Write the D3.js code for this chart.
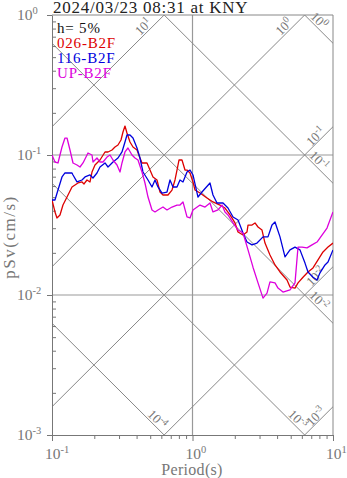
<!DOCTYPE html>
<html><head><meta charset="utf-8">
<script src="https://cdn.jsdelivr.net/npm/d3@7"></script>
<style>
html,body{margin:0;padding:0;background:#fff;}
svg{display:block;font-family:"Liberation Serif","Times New Roman",serif;}
</style></head><body>
<svg id="chart" width="347" height="478"></svg>
<script>
// Tripartite pseudo-velocity response spectra
const titleText = "2024/03/23 08:31 at KNY";
const dampingText = "h= 5%";
const seriesNames = ["026-B2F", "116-B2F", "UP-B2F"];
const seriesColors = ["#dd0000", "#0000dd", "#dd00dd"];

const periods026 = [0.100,0.105,0.1085,0.114,0.1197,0.1279,0.1388,0.1458,0.1531,0.1635,0.169,0.1774,0.1864,0.1926,0.2023,0.2196,0.2384,0.2504,0.2673,0.2807,0.2949,0.3098,0.3201,0.3307,0.3417,0.359,0.3771,0.4027,0.4229,0.437,0.4744,0.4983,0.5234,0.5588,0.587,0.6166,0.6692,0.7146,0.7506,0.7756,0.8014,0.8419,0.8843,0.9138,0.9598,1.008,1.042,1.131,1.268,1.399,1.569,1.703,1.849,2.007,2.109,2.288,2.443,2.484,2.652,2.785,2.926,3.124,3.281,3.56,3.866,4.195,4.706,4.943,5.364,5.637,6.117,6.639,7.206,7.822,8.49,9.215,10];
const psv026 = [0.0477,0.0392,0.0355,0.0373,0.0439,0.0501,0.0591,0.0611,0.0631,0.0642,0.0621,0.0663,0.0642,0.0756,0.0848,0.0921,0.1051,0.1051,0.1086,0.114,0.1179,0.128,0.146,0.161,0.1436,0.1239,0.114,0.1086,0.0952,0.0877,0.0877,0.0781,0.0697,0.0663,0.0544,0.0518,0.0518,0.0562,0.0663,0.0781,0.0921,0.0921,0.0781,0.0781,0.0744,0.0642,0.0562,0.0535,0.0493,0.0462,0.0439,0.0418,0.0373,0.0327,0.0282,0.0268,0.0282,0.0316,0.0316,0.0327,0.0306,0.0291,0.0235,0.0193,0.0164,0.0146,0.0128,0.0114,0.0112,0.0122,0.0134,0.0146,0.0156,0.0178,0.0203,0.022,0.0235];

const periods116 = [0.100,0.105,0.1103,0.1178,0.1237,0.130,0.1388,0.1411,0.1506,0.1635,0.1718,0.1864,0.1958,0.209,0.2196,0.2384,0.2504,0.2717,0.2949,0.3149,0.3307,0.3417,0.359,0.3771,0.4027,0.4229,0.4442,0.4823,0.5149,0.5409,0.5681,0.6066,0.6584,0.6916,0.7264,0.7756,0.8146,0.8557,0.9138,0.9598,1.008,1.094,1.168,1.332,1.399,1.494,1.649,1.789,1.943,2.109,2.288,2.443,2.652,2.878,3.176,3.445,3.68,3.866,4.195,4.554,4.943,5.364,5.821,6.32,6.639,7.206,7.695,8.081,8.772,9.215,10];
const psv116 = [0.0477,0.0477,0.0562,0.0697,0.0744,0.0744,0.0744,0.072,0.0642,0.0663,0.0697,0.072,0.0685,0.0744,0.0821,0.0877,0.0821,0.0891,0.0952,0.1051,0.1239,0.1389,0.1389,0.1322,0.1122,0.0952,0.0756,0.0663,0.0591,0.0663,0.0591,0.0535,0.0544,0.0663,0.0591,0.0591,0.0663,0.0642,0.0756,0.0781,0.072,0.0501,0.0544,0.0631,0.0518,0.0454,0.0454,0.0418,0.0361,0.0343,0.0277,0.0239,0.0228,0.0235,0.026,0.026,0.0316,0.0332,0.026,0.0187,0.021,0.022,0.021,0.0169,0.0146,0.0134,0.0128,0.0144,0.0164,0.0172,0.021];

const periodsUP = [0.100,0.105,0.1103,0.1178,0.1237,0.1279,0.1343,0.1411,0.1506,0.1582,0.1662,0.1804,0.1926,0.1958,0.209,0.2196,0.2307,0.2463,0.2587,0.2717,0.2901,0.3048,0.3149,0.3307,0.3474,0.3709,0.3896,0.4093,0.437,0.459,0.4823,0.5149,0.5409,0.5681,0.6166,0.6584,0.7146,0.7756,0.8146,0.8557,0.9138,0.9598,1.008,1.131,1.228,1.332,1.399,1.519,1.622,1.703,1.789,1.943,2.109,2.288,2.484,2.695,2.926,3.176,3.391,3.56,3.866,4.06,4.406,4.943,5.364,5.637,6.018,6.531,7.089,7.695,8.352,9.065,10];
const psvUP = [0.100,0.0891,0.0877,0.114,0.1322,0.1322,0.1086,0.0877,0.0848,0.0821,0.0877,0.1033,0.100,0.0891,0.0952,0.0891,0.0891,0.0967,0.100,0.0921,0.0848,0.0756,0.0877,0.1051,0.1122,0.100,0.0952,0.0921,0.0756,0.0631,0.0501,0.0405,0.0392,0.0405,0.0425,0.0405,0.0425,0.0439,0.0439,0.0462,0.0361,0.0355,0.0405,0.0439,0.0425,0.0454,0.0392,0.0405,0.0439,0.0392,0.0373,0.0327,0.0291,0.0277,0.021,0.0158,0.0122,0.0095,0.0103,0.0124,0.0122,0.0112,0.0105,0.0109,0.0122,0.022,0.022,0.0217,0.0228,0.0239,0.0268,0.0301,0.0392];

const periodTicks = [0.1, 1, 10];
const psvTicks = [1, 0.1, 0.01, 0.001];
const dispLevels = [1, 0.1, 0.01, 0.001, 0.0001];   // displacement, cm
const accLevels = [10, 1, 0.1, 0.01, 0.001];        // acceleration, cm/s^2

const svg = d3.select("#chart");
const L = 52, R = 333, T = 15, B = 435;
const x = d3.scaleLog().domain([0.1, 10]).range([L, R]);
const y = d3.scaleLog().domain([0.001, 1]).range([B, T]);
const TWO_PI = 2 * Math.PI;
const axisGray = "#777";

svg.append("defs").append("clipPath").attr("id", "plotArea")
  .append("rect").attr("x", L).attr("y", T).attr("width", R - L).attr("height", B - T);

// decade grid lines
const grid = svg.append("g").attr("stroke", "#999").attr("stroke-width", 1.2);
grid.selectAll("line.h").data([0.1, 0.01]).join("line")
  .attr("x1", L).attr("x2", R).attr("y1", d => y(d)).attr("y2", d => y(d));
grid.selectAll("line.v").data([1]).join("line")
  .attr("x1", d => x(d)).attr("x2", d => x(d)).attr("y1", T).attr("y2", B);

// constant displacement / acceleration lines
const diag = svg.append("g").attr("clip-path", "url(#plotArea)")
  .attr("stroke", "#888").attr("stroke-width", 1);
const dispSv = (D, t) => TWO_PI * D / t;
const accSv = (A, t) => A * t / TWO_PI;
dispLevels.forEach(D => diag.append("line")
  .attr("x1", x(0.1)).attr("y1", y(dispSv(D, 0.1)))
  .attr("x2", x(10)).attr("y2", y(dispSv(D, 10))));
accLevels.forEach(A => diag.append("line")
  .attr("x1", x(0.1)).attr("y1", y(accSv(A, 0.1)))
  .attr("x2", x(10)).attr("y2", y(accSv(A, 10))));

function powerLabel(sel, exp, base, sup, raise) {
  sel.append("tspan").text("10").attr("font-size", base);
  sel.append("tspan").text(String(exp)).attr("font-size", sup).attr("dy", -raise);
}

// diagonal labels near the end of each line
const diagLabels = svg.append("g").attr("fill", "#777");
function placeLabel(E, u, along, off, exp) {
  const n = [u[1], -u[0]];
  const cx = E[0] - u[0] * along + n[0] * off;
  const cy = E[1] - u[1] * along + n[1] * off;
  const ang = Math.atan2(u[1], u[0]) * 180 / Math.PI;
  const t = diagLabels.append("text")
    .attr("transform", `translate(${cx},${cy}) rotate(${ang})`)
    .attr("text-anchor", "middle").attr("y", 4);
  powerLabel(t, exp, 13, 9.5, 5);
}
function unit(p0, p1) {
  const dx = p1[0] - p0[0], dy = p1[1] - p0[1], l = Math.hypot(dx, dy);
  return [dx / l, dy / l];
}
dispLevels.forEach(D => {
  const u = unit([x(1), y(dispSv(D, 1))], [x(10), y(dispSv(D, 10))]);
  const exp = Math.round(Math.log10(D));
  if (dispSv(D, 10) >= 0.001) placeLabel([x(10), y(dispSv(D, 10))], u, 26, 6, exp);
  else placeLabel([x(TWO_PI * D / 0.001), y(0.001)], u, 16, 6, exp);
});
accLevels.forEach(A => {
  const u = unit([x(1), y(accSv(A, 1))], [x(10), y(accSv(A, 10))]);
  const exp = Math.round(Math.log10(A));
  const tTop = TWO_PI / A;
  if (tTop <= 10) placeLabel([x(tTop), y(1)], u, 23, 6, exp);
  else placeLabel([x(10), y(accSv(A, 10))], u, 19, 5, exp);
});

// frame
svg.append("line").attr("x1", L).attr("x2", R).attr("y1", T).attr("y2", T).attr("stroke", "#888");
svg.append("line").attr("x1", R).attr("x2", R).attr("y1", T).attr("y2", B).attr("stroke", "#888");

// axes
const minorPeriods = [], minorPsv = [];
[-1, 0].forEach(k => d3.range(2, 10).forEach(m => minorPeriods.push(m * Math.pow(10, k))));
[-3, -2, -1].forEach(k => d3.range(2, 10).forEach(m => minorPsv.push(m * Math.pow(10, k))));

function styleAxis(g) {
  g.selectAll("path,line").attr("stroke", axisGray).attr("stroke-width", 1);
  g.selectAll("text").remove();
}
svg.append("g").attr("transform", `translate(0,${B})`)
  .call(d3.axisBottom(x).tickValues(periodTicks).tickSize(6).tickSizeOuter(0)).call(styleAxis);
svg.append("g").attr("transform", `translate(0,${B})`)
  .call(d3.axisBottom(x).tickValues(minorPeriods).tickSize(4).tickSizeOuter(0)).call(styleAxis)
  .select(".domain").remove();
svg.append("g").attr("transform", `translate(${L},0)`)
  .call(d3.axisLeft(y).tickValues(psvTicks).tickSize(5).tickSizeOuter(0)).call(styleAxis);
svg.append("g").attr("transform", `translate(${L},0)`)
  .call(d3.axisLeft(y).tickValues(minorPsv).tickSize(-4).tickSizeOuter(0)).call(styleAxis)
  .select(".domain").remove();

// tick labels
const tickLabels = svg.append("g").attr("fill", axisGray);
periodTicks.forEach(p => {
  const t = tickLabels.append("text").attr("x", x(p) - 7).attr("y", 459);
  powerLabel(t, Math.round(Math.log10(p)), 15.5, 10.5, 6);
});
psvTicks.forEach(v => {
  const t = tickLabels.append("text").attr("x", 17).attr("y", y(v) + 5);
  powerLabel(t, Math.round(Math.log10(v)), 15.5, 10.5, 6);
});

// axis titles
svg.append("text").attr("x", 192).attr("y", 475).attr("text-anchor", "middle")
  .attr("fill", axisGray).attr("font-size", 16).attr("letter-spacing", 0.3).text("Period(s)");
svg.append("text").attr("transform", "translate(15,237) rotate(-90)").attr("text-anchor", "middle")
  .attr("fill", axisGray).attr("font-size", 17).attr("letter-spacing", 1.5).text("pSv(cm/s)");

// spectra
const series = [
  d3.zip(periods026, psv026),
  d3.zip(periods116, psv116),
  d3.zip(periodsUP, psvUP)
];
const line = d3.line().x(d => x(d[0])).y(d => y(d[1]));
svg.append("g").attr("clip-path", "url(#plotArea)")
  .selectAll("path").data(series).join("path")
  .attr("d", line).attr("fill", "none")
  .attr("stroke", (d, i) => seriesColors[i]).attr("stroke-width", 1.3)
  .attr("stroke-linejoin", "round");

// legend
const legend = svg.append("g").attr("font-size", 15).attr("letter-spacing", 0.8);
legend.append("text").attr("x", 57).attr("y", 33).attr("fill", "#111").text(dampingText);
seriesNames.forEach((s, i) => legend.append("text")
  .attr("x", 57).attr("y", 48 + 15 * i).attr("fill", seriesColors[i]).text(s));

// title
svg.append("text").attr("x", 53).attr("y", 12.5).attr("font-size", 17)
  .attr("letter-spacing", 0.75).attr("fill", "#222").text(titleText);
</script>
</body></html>
